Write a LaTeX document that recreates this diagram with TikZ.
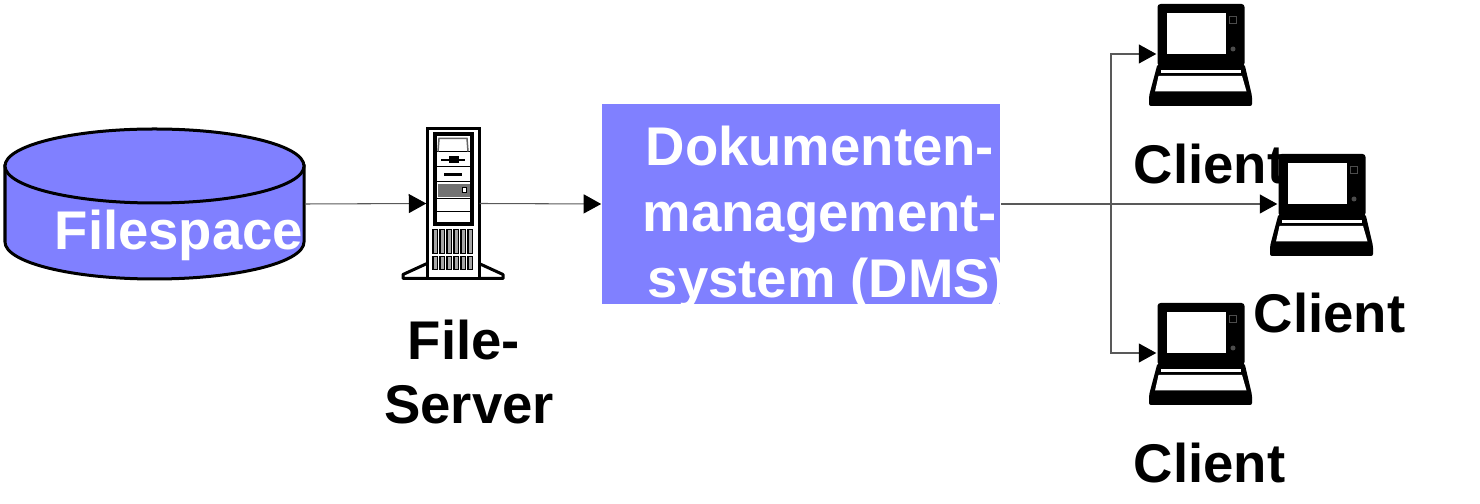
\documentclass[tikz,border=0pt]{standalone}
\usepackage{fontspec}
\setmainfont{Liberation Sans}
\usetikzlibrary{arrows.meta}
\definecolor{dmsblue}{HTML}{8080FF}

\begin{document}
\begin{tikzpicture}[x=0.01cm, y=-0.01cm,
  lbl/.style={font=\bfseries\fontsize{15.5}{18}\selectfont, inner sep=0pt},
  wlbl/.style={lbl, white},
  dms/.style={rectangle, fill=dmsblue, minimum width=3.98cm, minimum height=2cm, inner sep=0pt},
  platter/.style={rectangle, inner sep=0pt, minimum width=2.99cm, minimum height=1.5cm},
  slot/.style={rectangle, inner sep=0pt, minimum width=0.87cm, minimum height=1.02cm},
  tower/.style={rectangle, inner sep=0pt, minimum width=0.52cm, minimum height=1.51cm},
  lnk/.style={-{Triangle[length=1.75mm, width=1.9mm, color=black]}, draw=black!65, line width=0.3pt},
  disk/.pic={
    \draw[black, fill=dmsblue, line width=0.3mm] (-149.5,-38) -- (-149.5,38)
      arc[start angle=180, end angle=0, x radius=149.5, y radius=37] -- (149.5,-38) -- cycle;
    \draw[black, fill=dmsblue, line width=0.3mm] (0,-38) ellipse [x radius=149.5, y radius=37];
  },
  laptop/.pic={
    \fill[black, rounded corners=0.3mm] (-43,-50) rectangle (44,12);
    \fill[white] (-33.5,-41) rectangle (25.5,0);
    \draw[black!70, line width=0.1pt] (29,-38) rectangle (36,-31);
    \fill[black!70] (32.5,-5) circle (2.5);
    \fill[black, rounded corners=0.2mm] (-43,10) -- (44,10) -- (51.5,42) -- (51.5,52)
      -- (-51.5,52) -- (-51.5,42) -- cycle;
    \fill[white] (-40,16) rectangle (40.5,19);
    \fill[white] (-42,22) -- (41.5,22) -- (46,37.5) -- (-45.5,37.5) -- cycle;
  },
  server/.pic={
    \draw[black, fill=white, line width=0.3mm, line join=round] (-26,60) -- (-50,71) -- (-50,75)
      -- (-26,75) (26,60) -- (50,71) -- (50,75) -- (26,75);
    \draw[black, fill=white, line width=0.3mm] (-26,-75) rectangle (26,75);
    \draw[black, line width=0.4mm] (-18,-69) rectangle (19,21);
    % drive bays
    \foreach \yy in {-52,-37,-22,-5,8} {
      \draw[black, line width=0.15mm] (-17,\yy) -- (18,\yy);
    }
    \draw[black!60, line width=0.15mm] (-15,-52) -- (-14,-65) -- (14,-65) -- (15,-52);
    \fill[black] (-12,-44.5) rectangle (12,-42.5);
    \fill[black] (-4,-47) rectangle (6,-40);
    \fill[black] (-9,-30) rectangle (9,-27);
    \fill[black!55] (-15,-19) rectangle (17,-6);
    \draw[black, fill=white, line width=0.1mm] (9,-16) rectangle (13,-11);
    % vents
    \foreach \xx in {-20,-13,-6,1,8,15} {
      \draw[black, fill=black!35, line width=0.12mm] (\xx,26) rectangle ++(4.5,24);
      \draw[black, fill=black!35, line width=0.12mm] (\xx,53) rectangle ++(4.5,13);
    }
  }
]
\useasboundingbox (0,0) rectangle (1480,504);
% filespace
\node[platter] (FS) at (154.5,204) {};
\pic at (FS) {disk};
\node[wlbl, anchor=base west] (FStxt) at (54,250) {Filespace};
% file server
\node[tower] (FSrv) at (453,203.5) {};
\pic at (FSrv) {server};
\node[lbl, anchor=base] (FSrv1) at (464,360) {File-};
\node[lbl, anchor=base] (FSrv2) at (469,424) {Server};
% dms
\node[dms] (DMS) at (801,204) {};
\begin{scope}
\clip (DMS.south west) rectangle (DMS.north east);
\node[wlbl, anchor=base west] (DMS1) at (645,166) {Dokumenten-};
\node[wlbl, anchor=base west] (DMS2) at (642,232) {management-};
\node[wlbl, anchor=base west] (DMS3) at (647,298) {system (DMS)};
\end{scope}
% client labels
\node[lbl, anchor=base west] (C1) at (1133,184) {Client};
\node[lbl, anchor=base west] (C2) at (1253,333) {Client};
\node[lbl, anchor=base west] (C3) at (1133,482) {Client};
% clients
\node[slot] (L1) at (1200.5,54) {};
\node[slot] (L2) at (1321.5,204) {};
\node[slot] (L3) at (1200.5,353) {};
\foreach \lp in {L1,L2,L3} {
  \pic at (\lp) {laptop};
}
% links
\coordinate (trunk) at (1111,204);
\draw[lnk] (FS.east) -- (FSrv.west);
\draw[lnk] (FSrv.east) -- (DMS.west);
\draw[lnk] (DMS.east) -- (L2.west);
\draw[lnk] (trunk) |- (L1.west);
\draw[lnk] (trunk) |- (L3.west);
\end{tikzpicture}
\end{document}
